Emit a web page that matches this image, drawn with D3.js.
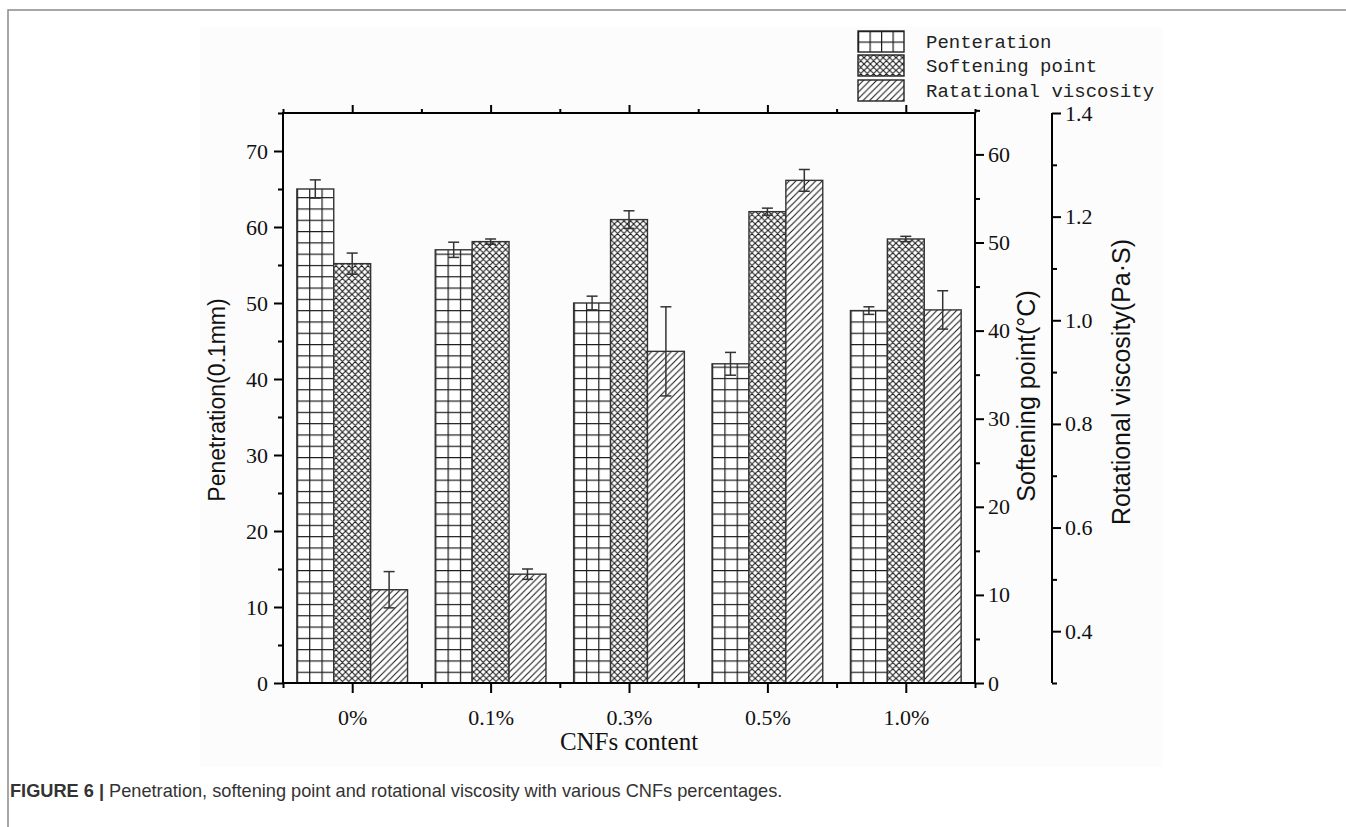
<!DOCTYPE html>
<html>
<head>
<meta charset="utf-8">
<script src="https://cdn.jsdelivr.net/npm/d3@7"></script>
<style>
body { margin: 0; background: #fff; }
.tick text { font-family: "Liberation Serif", "Times New Roman", serif; font-size: 22px; fill: #111; }
</style>
</head>
<body>
<div id="chart"></div>
<script>
// values
var categories = ["0%", "0.1%", "0.3%", "0.5%", "1.0%"];
var legendNames = ["Penteration", "Softening point", "Ratational viscosity"];
var penetration = [65, 57, 50, 42, 49];
var penetrationErr = [1.2, 1.0, 0.9, 1.5, 0.5];
var softening = [47.6, 50.1, 52.6, 53.5, 50.4];
var softeningErr = [1.2, 0.3, 1.0, 0.4, 0.3];
var viscosity = [0.48, 0.51, 0.94, 1.27, 1.02];
var viscosityErr = [0.035, 0.01, 0.086, 0.021, 0.037];
var penTicks = [0, 10, 20, 30, 40, 50, 60, 70];
var softTicks = [0, 10, 20, 30, 40, 50, 60];
var viscTicks = [0.4, 0.6, 0.8, 1.0, 1.2, 1.4];

// plot frame
var plotLeft = 283, plotRight = 975, plotTop = 113, plotBottom = 683;
var viscAxisX = 1052;

var svg = d3.select("#chart")
  .append("svg")
  .attr("width", 1346)
  .attr("height", 827);

// figure border (top and left only visible)
svg.append("path")
  .attr("d", "M8,827 V10 H1346")
  .attr("fill", "none")
  .attr("stroke", "#8a8a8a")
  .attr("stroke-width", 1.5);

svg.append("rect")
  .attr("x", 200).attr("y", 27)
  .attr("width", 962).attr("height", 740)
  .attr("fill", "#fcfcfc");

// scales
var x0 = d3.scaleBand().domain(categories).range([plotLeft, plotRight]);
var keys = ["pen", "soft", "visc"];
var x1 = d3.scaleBand().domain(keys)
  .range([x0.bandwidth() * 0.1, x0.bandwidth() * 0.9]);
var xLin = d3.scaleLinear().domain([0, categories.length]).range([plotLeft, plotRight]);

var yPen = d3.scaleLinear().domain([0, 75]).range([plotBottom, plotTop]);
var ySoft = d3.scaleLinear().domain([0, 64.7]).range([plotBottom, plotTop]);
var yVisc = d3.scaleLinear().domain([0.3, 1.4]).range([plotBottom, plotTop]);

var bw = x1.bandwidth();

// fill patterns
var defs = svg.append("defs");
var ink = "#1a1a1a";

// grid pattern, one per group so the lines start on the bar edge
categories.forEach(function(c, i) {
  var p = defs.append("pattern")
    .attr("id", "grid" + i)
    .attr("patternUnits", "userSpaceOnUse")
    .attr("x", x0(c) + x1("pen"))
    .attr("y", plotBottom)
    .attr("width", bw / 3)
    .attr("height", 11.3);
  p.append("rect").attr("width", bw / 3).attr("height", 11.3).attr("fill", "#fff");
  p.append("path")
    .attr("d", "M0,0 H" + bw / 3 + " M0,0 V11.3")
    .attr("stroke", ink).attr("stroke-width", 2.4);
});

var cs = 6.4;
var cross = defs.append("pattern")
  .attr("id", "cross")
  .attr("patternUnits", "userSpaceOnUse")
  .attr("width", cs).attr("height", cs);
cross.append("rect").attr("width", cs).attr("height", cs).attr("fill", "#fff");
cross.append("path")
  .attr("d", "M0,0 L" + cs + "," + cs + " M" + cs + ",0 L0," + cs +
    " M-1,1 l2,-2 M" + (cs - 1) + "," + (cs + 1) + " l2,-2" +
    " M-1," + (cs - 1) + " l2,2 M" + (cs - 1) + ",-1 l2,2")
  .attr("stroke", ink).attr("stroke-width", 1.1);

var hs = 6.6;
var hatch = defs.append("pattern")
  .attr("id", "hatch")
  .attr("patternUnits", "userSpaceOnUse")
  .attr("width", hs).attr("height", hs);
hatch.append("rect").attr("width", hs).attr("height", hs).attr("fill", "#fff");
hatch.append("path")
  .attr("d", "M-1,1 l2,-2 M0," + hs + " L" + hs + ",0 M" + (hs - 1) + "," + (hs + 1) + " l2,-2")
  .attr("stroke", ink).attr("stroke-width", 1.1);

// legend grid pattern
var lg = defs.append("pattern")
  .attr("id", "gridLegend")
  .attr("patternUnits", "userSpaceOnUse")
  .attr("x", 858).attr("y", 31)
  .attr("width", 11.5).attr("height", 10.5);
lg.append("rect").attr("width", 11.5).attr("height", 10.5).attr("fill", "#fff");
lg.append("path")
  .attr("d", "M0,0 H11.5 M0,0 V10.5")
  .attr("stroke", ink).attr("stroke-width", 2.4);

// bars
var rows = categories.map(function(c, i) {
  return [
    {cat: c, i: i, key: "pen", v: penetration[i], e: penetrationErr[i], y: yPen, fill: "url(#grid" + i + ")"},
    {cat: c, i: i, key: "soft", v: softening[i], e: softeningErr[i], y: ySoft, fill: "url(#cross)"},
    {cat: c, i: i, key: "visc", v: viscosity[i], e: viscosityErr[i], y: yVisc, fill: "url(#hatch)"}
  ];
});
var bars = [].concat.apply([], rows);

var g = svg.append("g");
g.selectAll("rect.bar")
  .data(bars)
  .enter()
  .append("rect")
  .attr("class", "bar")
  .attr("x", function(d) { return x0(d.cat) + x1(d.key); })
  .attr("y", function(d) { return d.y(d.v); })
  .attr("width", bw)
  .attr("height", function(d) { return plotBottom - d.y(d.v); })
  .attr("fill", function(d) { return d.fill; })
  .attr("stroke", "#333")
  .attr("stroke-width", 1.4);

// error bars
var eb = g.selectAll("g.err")
  .data(bars)
  .enter()
  .append("g")
  .attr("class", "err")
  .attr("transform", function(d) { return "translate(" + (x0(d.cat) + x1(d.key) + bw / 2) + ",0)"; });
eb.append("line")
  .attr("y1", function(d) { return d.y(d.v + d.e); })
  .attr("y2", function(d) { return d.y(d.v - d.e); });
eb.append("line")
  .attr("x1", -5.5).attr("x2", 5.5)
  .attr("y1", function(d) { return d.y(d.v + d.e); })
  .attr("y2", function(d) { return d.y(d.v + d.e); });
eb.append("line")
  .attr("x1", -5.5).attr("x2", 5.5)
  .attr("y1", function(d) { return d.y(d.v - d.e); })
  .attr("y2", function(d) { return d.y(d.v - d.e); });
eb.selectAll("line").attr("stroke", "#333").attr("stroke-width", 1.5);

// axes
function styleAxis(sel) {
  sel.select(".domain").remove();
  sel.selectAll(".tick line").attr("stroke", "#000").attr("stroke-width", 2);
}
function minor(arr, step) {
  var out = [];
  for (var k = 0; k < arr.length; k++) out.push(arr[k] + step);
  return out;
}

// left: penetration
svg.append("g").attr("transform", "translate(" + plotLeft + ",0)")
  .call(d3.axisLeft(yPen).tickValues(penTicks).tickSize(9).tickPadding(6))
  .call(styleAxis);
svg.append("g").attr("transform", "translate(" + plotLeft + ",0)")
  .call(d3.axisLeft(yPen).tickValues(minor(penTicks, 5)).tickSize(5).tickFormat(""))
  .call(styleAxis);

// right: softening point
svg.append("g").attr("transform", "translate(" + plotRight + ",0)")
  .call(d3.axisRight(ySoft).tickValues(softTicks).tickSize(9).tickPadding(4))
  .call(styleAxis);
svg.append("g").attr("transform", "translate(" + plotRight + ",0)")
  .call(d3.axisRight(ySoft).tickValues(minor(softTicks, 5)).tickSize(5).tickFormat(""))
  .call(styleAxis);

// offset right: viscosity
svg.append("g").attr("transform", "translate(" + viscAxisX + ",0)")
  .call(d3.axisRight(yVisc).tickValues(viscTicks).tickSize(9).tickPadding(4)
    .tickFormat(d3.format(".1f")))
  .call(styleAxis);
svg.append("g").attr("transform", "translate(" + viscAxisX + ",0)")
  .call(d3.axisRight(yVisc).tickValues([0.3, 0.5, 0.7, 0.9, 1.1, 1.3]).tickSize(5).tickFormat(""))
  .call(styleAxis);
svg.append("line")
  .attr("x1", viscAxisX).attr("x2", viscAxisX)
  .attr("y1", plotTop).attr("y2", plotBottom)
  .attr("stroke", "#000").attr("stroke-width", 2);

// bottom and top
var centers = d3.range(categories.length).map(function(i) { return i + 0.5; });
var edges = d3.range(categories.length + 1);
svg.append("g").attr("transform", "translate(0," + plotBottom + ")")
  .call(d3.axisBottom(xLin).tickValues(centers).tickSize(10).tickPadding(16)
    .tickFormat(function(d) { return categories[Math.floor(d)]; }))
  .call(styleAxis);
svg.append("g").attr("transform", "translate(0," + plotBottom + ")")
  .call(d3.axisBottom(xLin).tickValues(edges).tickSize(5).tickFormat(""))
  .call(styleAxis);
svg.append("g").attr("transform", "translate(0," + plotTop + ")")
  .call(d3.axisTop(xLin).tickValues(centers).tickSize(8).tickFormat(""))
  .call(styleAxis);
svg.append("g").attr("transform", "translate(0," + plotTop + ")")
  .call(d3.axisTop(xLin).tickValues(edges).tickSize(4).tickFormat(""))
  .call(styleAxis);

// plot frame
svg.append("rect")
  .attr("x", plotLeft).attr("y", plotTop)
  .attr("width", plotRight - plotLeft).attr("height", plotBottom - plotTop)
  .attr("fill", "none")
  .attr("stroke", "#000")
  .attr("stroke-width", 2);

// axis titles
var titleFont = "'Liberation Sans', Arial, sans-serif";
svg.append("text")
  .attr("transform", "translate(225,400) rotate(-90)")
  .attr("text-anchor", "middle")
  .style("font-family", titleFont).style("font-size", "23px").attr("fill", "#111")
  .text("Penetration(0.1mm)");
svg.append("text")
  .attr("transform", "translate(1035,396) rotate(-90)")
  .attr("text-anchor", "middle")
  .style("font-family", titleFont).style("font-size", "25px").attr("fill", "#111")
  .text("Softening point(\u00B0C)");
svg.append("text")
  .attr("transform", "translate(1130,382) rotate(-90)")
  .attr("text-anchor", "middle")
  .style("font-family", titleFont).style("font-size", "25px").attr("fill", "#111")
  .text("Rotational viscosity(Pa\u00B7S)");
svg.append("text")
  .attr("x", (plotLeft + plotRight) / 2).attr("y", 750)
  .attr("text-anchor", "middle")
  .style("font-family", "'Liberation Serif', 'Times New Roman', serif")
  .style("font-size", "25px").attr("fill", "#111")
  .text("CNFs content");

// legend
var legendFills = ["url(#gridLegend)", "url(#cross)", "url(#hatch)"];
var legendY = [31, 55, 80];
var leg = svg.selectAll("g.leg")
  .data(legendNames)
  .enter()
  .append("g")
  .attr("class", "leg");
leg.append("rect")
  .attr("x", 858)
  .attr("y", function(d, i) { return legendY[i]; })
  .attr("width", 46).attr("height", 21)
  .attr("fill", function(d, i) { return legendFills[i]; })
  .attr("stroke", "#222").attr("stroke-width", 1.4);
leg.append("text")
  .attr("x", 926)
  .attr("y", function(d, i) { return legendY[i] + 17; })
  .style("font-family", "'Liberation Mono', 'Courier New', monospace")
  .style("font-size", "19px").attr("fill", "#222")
  .text(function(d) { return d; });

// caption
var cap = svg.append("text")
  .attr("x", 10).attr("y", 797)
  .style("font-family", "'Liberation Sans Narrow', 'Liberation Sans', Arial, sans-serif")
  .style("font-size", "18.2px").attr("fill", "#333");
cap.append("tspan").style("font-weight", "bold").text("FIGURE 6 |");
cap.append("tspan").text(" Penetration, softening point and rotational viscosity with various CNFs percentages.");
</script>
</body>
</html>
